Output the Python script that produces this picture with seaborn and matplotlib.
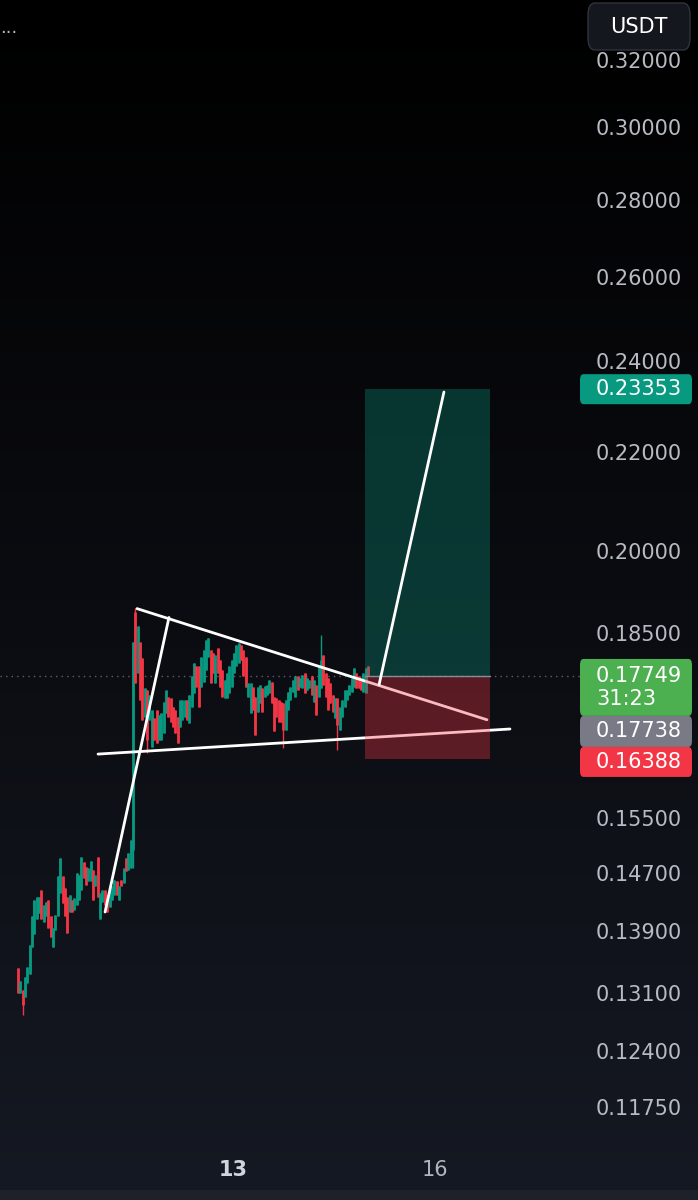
import numpy as np
import pandas as pd
import matplotlib.pyplot as plt
import seaborn as sns
from matplotlib.patches import FancyBboxPatch, Rectangle
from matplotlib.colors import LinearSegmentedColormap
from matplotlib.ticker import NullLocator

# hourly candles
opens = [0.1342, 0.1311, 0.1314, 0.1305, 0.1323, 0.1334, 0.1369, 0.1386, 0.1406, 0.1415,
         0.1446, 0.1403, 0.1410, 0.1432, 0.1410, 0.1369, 0.1392, 0.1410, 0.1442, 0.1465,
         0.1449, 0.1437, 0.1416, 0.1432, 0.1419, 0.1426, 0.1432, 0.1446, 0.1486, 0.1479,
         0.1458, 0.1458, 0.1474, 0.1451, 0.1493, 0.1406, 0.1430, 0.1446, 0.1439, 0.1423,
         0.1432, 0.1439, 0.1458, 0.1432, 0.1460, 0.1456, 0.1491, 0.1474, 0.1477, 0.1503,
         0.1887, 0.1780, 0.1834, 0.1806, 0.1707, 0.1751, 0.1702, 0.1658, 0.1705, 0.1718,
         0.1670, 0.1670, 0.1681, 0.1713, 0.1740, 0.1738, 0.1723, 0.1718, 0.1707, 0.1691,
         0.1702, 0.1707, 0.1734, 0.1697, 0.1723, 0.1746, 0.1791, 0.1791, 0.1757, 0.1765,
         0.1785, 0.1808, 0.1819, 0.1814, 0.1763, 0.1823, 0.1802, 0.1785, 0.1738, 0.1738,
         0.1746, 0.1757, 0.1780, 0.1791, 0.1797, 0.1828, 0.1819, 0.1808, 0.1740, 0.1713,
         0.1757, 0.1740, 0.1715, 0.1730, 0.1755, 0.1740, 0.1743, 0.1746, 0.1765, 0.1740,
         0.1738, 0.1734, 0.1731, 0.1730, 0.1686, 0.1718, 0.1734, 0.1748, 0.1740, 0.1774,
         0.1757, 0.1755, 0.1780, 0.1751, 0.1755, 0.1774, 0.1731, 0.1760, 0.1740, 0.1755,
         0.1811, 0.1780, 0.1772, 0.1763, 0.1743, 0.1705, 0.1738, 0.1686, 0.1707, 0.1723,
         0.1734, 0.1743, 0.1748, 0.1757, 0.1780, 0.1775, 0.1772, 0.1748, 0.1746, 0.1791]
closes = [0.1311, 0.1325, 0.1296, 0.1331, 0.1344, 0.1372, 0.1410, 0.1432, 0.1437, 0.1437,
          0.1406, 0.1426, 0.1430, 0.1395, 0.1383, 0.1395, 0.1412, 0.1465, 0.1491, 0.1428,
          0.1410, 0.1388, 0.1439, 0.1416, 0.1435, 0.1470, 0.1467, 0.1493, 0.1463, 0.1453,
          0.1477, 0.1487, 0.1432, 0.1467, 0.1437, 0.1442, 0.1446, 0.1426, 0.1416, 0.1446,
          0.1451, 0.1460, 0.1439, 0.1451, 0.1451, 0.1477, 0.1472, 0.1498, 0.1517, 0.1834,
          0.1763, 0.1861, 0.1734, 0.1702, 0.1755, 0.1670, 0.1743, 0.1718, 0.1670, 0.1665,
          0.1710, 0.1713, 0.1731, 0.1751, 0.1707, 0.1699, 0.1691, 0.1681, 0.1665, 0.1734,
          0.1734, 0.1734, 0.1702, 0.1743, 0.1774, 0.1797, 0.1757, 0.1723, 0.1808, 0.1819,
          0.1837, 0.1841, 0.1763, 0.1780, 0.1811, 0.1780, 0.1757, 0.1740, 0.1768, 0.1780,
          0.1791, 0.1802, 0.1814, 0.1828, 0.1832, 0.1802, 0.1774, 0.1757, 0.1763, 0.1763,
          0.1718, 0.1678, 0.1757, 0.1760, 0.1715, 0.1758, 0.1760, 0.1768, 0.1730, 0.1683,
          0.1707, 0.1699, 0.1699, 0.1686, 0.1734, 0.1748, 0.1757, 0.1768, 0.1774, 0.1751,
          0.1772, 0.1777, 0.1746, 0.1772, 0.1768, 0.1743, 0.1768, 0.1710, 0.1791, 0.1802,
          0.1760, 0.1740, 0.1718, 0.1730, 0.1715, 0.1738, 0.1694, 0.1723, 0.1734, 0.1751,
          0.1751, 0.1760, 0.1772, 0.1789, 0.1755, 0.1755, 0.1751, 0.1780, 0.1789, 0.1775]
highs = [0.1342, 0.1325, 0.1314, 0.1331, 0.1344, 0.1372, 0.1410, 0.1432, 0.1437, 0.1437,
         0.1446, 0.1426, 0.1430, 0.1432, 0.1410, 0.1395, 0.1412, 0.1465, 0.1491, 0.1465,
         0.1449, 0.1437, 0.1439, 0.1432, 0.1435, 0.1470, 0.1467, 0.1493, 0.1486, 0.1479,
         0.1477, 0.1487, 0.1474, 0.1467, 0.1493, 0.1442, 0.1446, 0.1446, 0.1439, 0.1446,
         0.1451, 0.1460, 0.1458, 0.1451, 0.1460, 0.1477, 0.1491, 0.1498, 0.1517, 0.1834,
         0.1894, 0.1861, 0.1834, 0.1806, 0.1755, 0.1751, 0.1743, 0.1718, 0.1705, 0.1718,
         0.1710, 0.1713, 0.1731, 0.1751, 0.1740, 0.1738, 0.1723, 0.1718, 0.1707, 0.1734,
         0.1734, 0.1734, 0.1734, 0.1743, 0.1774, 0.1797, 0.1791, 0.1791, 0.1808, 0.1819,
         0.1837, 0.1841, 0.1819, 0.1814, 0.1811, 0.1823, 0.1802, 0.1785, 0.1768, 0.1780,
         0.1791, 0.1802, 0.1814, 0.1828, 0.1832, 0.1828, 0.1819, 0.1808, 0.1763, 0.1763,
         0.1757, 0.1740, 0.1757, 0.1760, 0.1755, 0.1758, 0.1760, 0.1768, 0.1765, 0.1740,
         0.1738, 0.1734, 0.1731, 0.1730, 0.1734, 0.1748, 0.1757, 0.1768, 0.1774, 0.1774,
         0.1772, 0.1777, 0.1780, 0.1772, 0.1768, 0.1774, 0.1768, 0.1760, 0.1791, 0.1846,
         0.1811, 0.1780, 0.1772, 0.1763, 0.1743, 0.1738, 0.1738, 0.1723, 0.1734, 0.1751,
         0.1751, 0.1760, 0.1772, 0.1789, 0.1780, 0.1775, 0.1772, 0.1780, 0.1789, 0.1791]
lows = [0.1311, 0.1311, 0.1283, 0.1305, 0.1323, 0.1334, 0.1369, 0.1386, 0.1406, 0.1415,
        0.1406, 0.1403, 0.1410, 0.1395, 0.1383, 0.1369, 0.1392, 0.1410, 0.1442, 0.1428,
        0.1410, 0.1388, 0.1416, 0.1416, 0.1419, 0.1426, 0.1432, 0.1446, 0.1463, 0.1453,
        0.1458, 0.1458, 0.1432, 0.1451, 0.1437, 0.1406, 0.1430, 0.1426, 0.1416, 0.1423,
        0.1432, 0.1439, 0.1439, 0.1432, 0.1451, 0.1456, 0.1472, 0.1474, 0.1477, 0.1477,
        0.1763, 0.1780, 0.1734, 0.1702, 0.1707, 0.1649, 0.1702, 0.1658, 0.1670, 0.1665,
        0.1670, 0.1670, 0.1681, 0.1713, 0.1707, 0.1699, 0.1691, 0.1681, 0.1665, 0.1691,
        0.1702, 0.1707, 0.1702, 0.1697, 0.1723, 0.1746, 0.1757, 0.1723, 0.1757, 0.1765,
        0.1785, 0.1808, 0.1763, 0.1780, 0.1763, 0.1780, 0.1757, 0.1740, 0.1738, 0.1738,
        0.1746, 0.1757, 0.1780, 0.1791, 0.1797, 0.1802, 0.1774, 0.1757, 0.1740, 0.1713,
        0.1718, 0.1678, 0.1715, 0.1730, 0.1715, 0.1740, 0.1743, 0.1746, 0.1730, 0.1683,
        0.1707, 0.1699, 0.1699, 0.1657, 0.1686, 0.1718, 0.1734, 0.1748, 0.1740, 0.1751,
        0.1757, 0.1755, 0.1746, 0.1751, 0.1755, 0.1743, 0.1731, 0.1710, 0.1740, 0.1755,
        0.1760, 0.1740, 0.1718, 0.1730, 0.1715, 0.1705, 0.1653, 0.1686, 0.1707, 0.1723,
        0.1734, 0.1743, 0.1748, 0.1757, 0.1755, 0.1755, 0.1751, 0.1748, 0.1746, 0.1775]

price_ticks = [0.32, 0.30, 0.28, 0.26, 0.24, 0.22, 0.20, 0.185,
               0.155, 0.147, 0.139, 0.131, 0.124, 0.1175]
day_labels = ['13', '16']
day_bars = [91.6, 177.5]

take_profit = 0.23353
entry = 0.17749
stop_loss = 0.16388
mark_price = 0.17738
countdown = '31:23'
position_bars = [147.7, 200.9]

# drawn trendlines: bar index / price anchors
support_line = ([34.1, 209.4], [0.1647, 0.1687])
upper_line = ([50.7, 199.6], [0.1893, 0.1702])
impulse_line = ([37.1, 64.3], [0.1416, 0.1877])
target_line = ([153.7, 181.3], [0.1760, 0.2329])

UP = '#089981'
DOWN = '#f23645'
W, H = 698, 1200

sns.set_theme(style="dark")
plt.rcParams['font.family'] = ['DejaVu Sans']

fig = plt.figure(figsize=(W / 100, H / 100), dpi=100)

# background gradient
bg = fig.add_axes([0, 0, 1, 1], zorder=-5)
grad = np.linspace(0, 1, 300).reshape(-1, 1)
cmap = LinearSegmentedColormap.from_list('bg', ['#000000', '#0b0c11', '#151923'])
bg.imshow(grad, aspect='auto', cmap=cmap, extent=[0, 1, 0, 1])
bg.axis('off')
fig.patches.append(Rectangle((0, 0), 1, 10 / H, transform=fig.transFigure,
                             facecolor='#1e212a', edgecolor='none', zorder=-4))

ax = fig.add_axes([0, 50 / H, 580 / W, 1150 / H])
ax.set_facecolor('none')
ax.set_yscale('log')
ax.set_xlim(-7.6, 239.2)
ax.set_ylim(0.11276, 0.33891)

df = pd.DataFrame({'open': opens, 'high': highs, 'low': lows, 'close': closes})
df['bar'] = np.arange(len(df))
colors = np.where(df['close'] >= df['open'], UP, DOWN)
ax.vlines(df['bar'], df['low'], df['high'], colors=colors, linewidth=1.0, zorder=3)
ax.vlines(df['bar'], df[['open', 'close']].min(axis=1), df[['open', 'close']].max(axis=1),
          colors=colors, linewidth=2.0, zorder=3)

# current price dotted line
ax.axhline(entry, color='#5f626c', lw=1, ls=(0, (1, 3)), zorder=1)

# trendlines under the position box
for xs, ys in (support_line, upper_line, impulse_line):
    sns.lineplot(x=xs, y=ys, ax=ax, color='white', lw=2, zorder=4)

# long position box
x0, x1 = position_bars
ax.fill_between([x0, x1], entry, take_profit, color=UP, alpha=0.32, lw=0, zorder=5)
ax.fill_between([x0, x1], stop_loss, entry, color=DOWN, alpha=0.34, lw=0, zorder=5)
ax.plot([x0, x1], [entry, entry], color='#8a8d96', lw=1, zorder=5)

sns.lineplot(x=target_line[0], y=target_line[1], ax=ax, color='white', lw=2, zorder=6)

for s in ax.spines.values():
    s.set_visible(False)
ax.grid(False)
ax.yaxis.tick_right()
ax.set_yticks(price_ticks)
ax.set_yticklabels([f'{v:.5f}' for v in price_ticks])
ax.yaxis.set_minor_locator(NullLocator())
ax.tick_params(axis='y', length=0, pad=11.5, labelsize=15, labelcolor='#b8bbc3')
ax.set_xticks(day_bars)
ax.set_xticklabels(day_labels)
ax.tick_params(axis='x', length=0, pad=7, labelsize=15, labelcolor='#b2b5be')
ax.get_xticklabels()[0].set_fontweight('bold')
ax.get_xticklabels()[0].set_color('#d1d4dc')


def y_px(price):
    return H - ax.transData.transform((0, price))[1]


def label_box(top, height, color, lines):
    fig.patches.append(FancyBboxPatch((580 / W, 1 - (top + height) / H), 112 / W, height / H,
                                      boxstyle='round,pad=0,rounding_size=0.005',
                                      transform=fig.transFigure, facecolor=color,
                                      edgecolor='none', zorder=5))
    for dy, txt in lines:
        fig.text(596 / W, 1 - (top + dy) / H, txt, color='white', fontsize=15,
                 ha='left', va='center', zorder=6)


yt = y_px(take_profit)
label_box(yt - 15, 30, UP, [(15, f'{take_profit:.5f}')])
ye = y_px(entry)
label_box(ye - 17, 57, '#4caf50', [(17, f'{entry:.5f}'), (40, countdown)])
label_box(ye + 40, 31, '#787b86', [(15.5, f'{mark_price:.5f}')])
label_box(ye + 71, 30, DOWN, [(15, f'{stop_loss:.5f}')])

# currency button and truncated legend
fig.patches.append(FancyBboxPatch((588 / W, 1 - 50 / H), 102 / W, 47 / H,
                                  boxstyle='round,pad=0,rounding_size=0.01',
                                  transform=fig.transFigure, facecolor='#15171e',
                                  edgecolor='#30333c', lw=1, zorder=5))
fig.text(639 / W, 1 - 27 / H, 'USDT', color='white', fontsize=15, ha='center', va='center', zorder=6)
fig.text(0, 1 - 28 / H, '...', color='#b2b5be', fontsize=13, ha='left', va='center')

fig.savefig('out.png', dpi=100, facecolor='black')
